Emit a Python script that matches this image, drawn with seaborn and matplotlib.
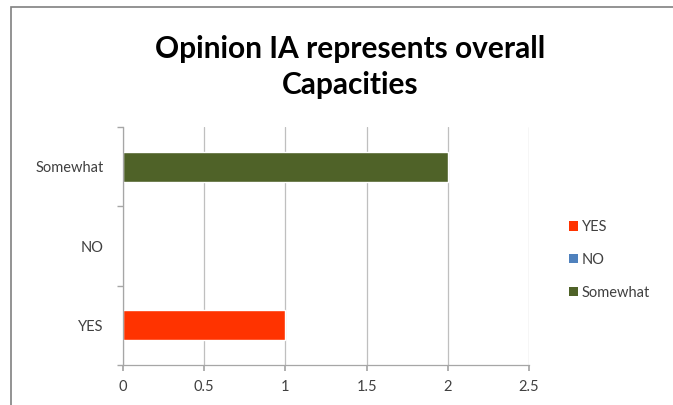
import matplotlib
matplotlib.use("Agg")
import matplotlib.pyplot as plt
import seaborn as sns
import pandas as pd
from matplotlib.patches import Rectangle, Patch

categories = ["YES", "NO", "Somewhat"]
values = [1, 0, 2]
colors = ["#FF3300", "#4F81BD", "#4F6228"]
x_ticks = [0, 0.5, 1, 1.5, 2, 2.5]
x_tick_labels = ["0", "0.5", "1", "1.5", "2", "2.5"]
title = "Opinion IA represents overall\nCapacities"

sns.set_theme(style="white")
plt.rcParams["font.family"] = ["Lato", "DejaVu Sans"]

df = pd.DataFrame({"cat": categories, "val": values})
palette = dict(zip(categories, colors))

fig = plt.figure(figsize=(6.73, 4.05), dpi=100)
ax = fig.add_axes([123/673, 1 - 365/405, (529 - 123)/673, (365 - 127)/405])

sns.barplot(data=df, x="val", y="cat", hue="cat", order=["Somewhat", "NO", "YES"],
            hue_order=categories, palette=palette, dodge=False, width=0.38,
            saturation=1, legend=False, ax=ax)

ax.set_xlim(0, 2.5)
ax.set_ylim(2.5, -0.5)
ax.set_xticks(x_ticks)
ax.set_xticklabels(x_tick_labels)
ax.set_xlabel("")
ax.set_ylabel("")
ax.grid(axis="x", color="#BFBFBF", linewidth=0.9)
ax.set_axisbelow(True)
for s in ["top", "right"]:
    ax.spines[s].set_visible(False)
for s in ["left", "bottom"]:
    ax.spines[s].set_color("#A6A6A6")
    ax.spines[s].set_linewidth(0.9)
ax.tick_params(axis="x", length=4, color="#A6A6A6", labelsize=10.5, labelcolor="#404040", pad=7, bottom=True)
ax.tick_params(axis="y", which="major", length=0, labelsize=10.5, labelcolor="#404040", pad=14)
ax.set_yticks([-0.5, 0.5, 1.5, 2.5], minor=True)
ax.tick_params(axis="y", which="minor", length=4, color="#A6A6A6", left=True)

fig.text(350/673, 1 - 67/405, title, ha="center", va="center", fontsize=21.5,
         fontweight="bold", color="#000000", linespacing=1.32)

handles = [Patch(facecolor=c, edgecolor="none") for c in colors]
fig.legend(handles, categories, loc="center left", bbox_to_anchor=(562/673, 1 - 260/405),
           frameon=False, fontsize=10.5, handlelength=0.6, handleheight=0.6,
           handletextpad=0.25, labelspacing=1.3, labelcolor="#404040", borderpad=0)

fig.patches.append(Rectangle((11/673, -0.1), 1.2, 1 - 7/405 + 0.1, transform=fig.transFigure,
                             fill=False, edgecolor="#808080", linewidth=1.2))

fig.savefig("out.png", dpi=100, facecolor="white")
